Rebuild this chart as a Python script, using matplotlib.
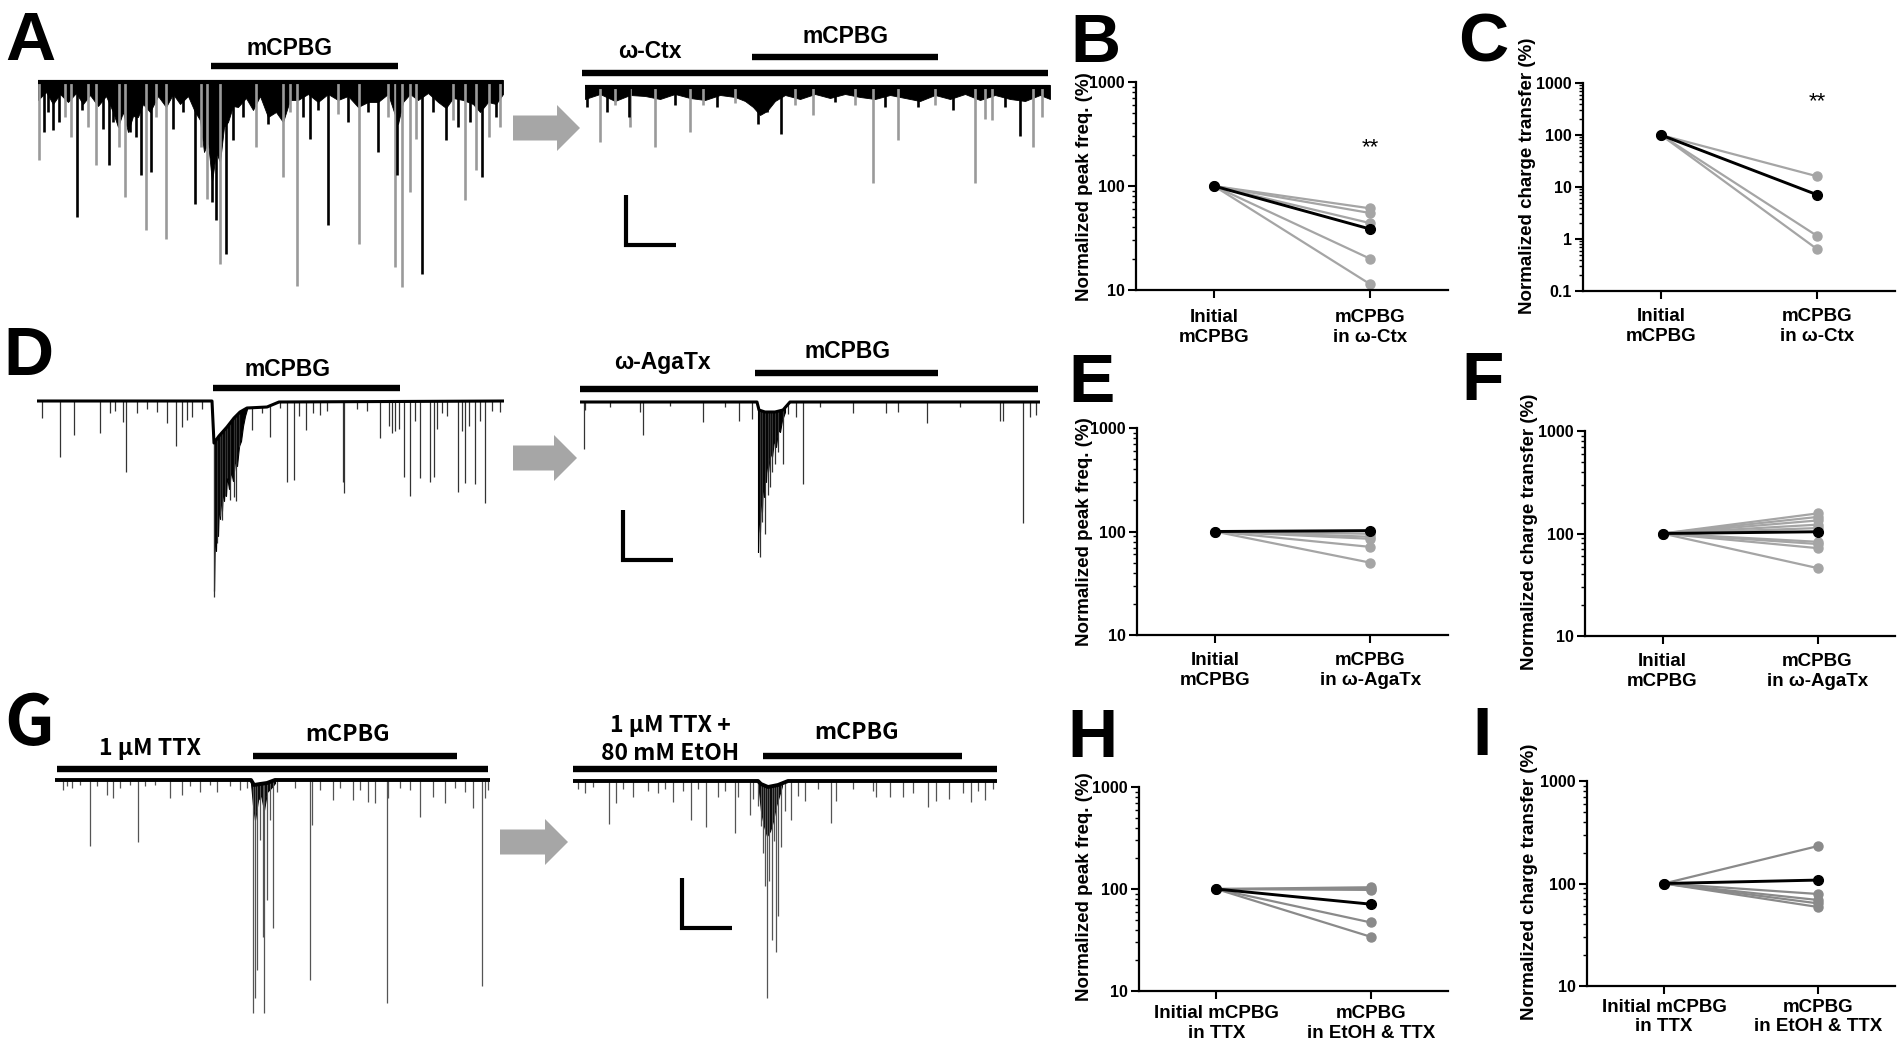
import numpy as np
import matplotlib
matplotlib.use('Agg')
import matplotlib.pyplot as plt
from matplotlib.patches import FancyArrow
from matplotlib.ticker import FuncFormatter, NullFormatter

plt.rcParams['font.family'] = ['Liberation Sans', 'DejaVu Sans']
plt.rcParams['font.weight'] = 'bold'

W, H = 1904, 1053
KR = ['Noto Sans CJK KR', 'DejaVu Sans']

# ---------------- paired plots (normalized to initial mCPBG = 100 %) ----------------
initial = 100.0
b_after = [61, 55, 44, 20, 11.4]
b_example = 38.6
c_after = [16.1, 1.15, 0.64]
c_example = 7.1
e_after = [95, 89, 85, 71, 50]
e_example = 102
f_after = [157, 145, 134, 122, 113, 83, 79, 72, 46]
f_example = 104
h_after = [104, 100, 98, 47, 34]
h_example = 71
i_after = [232, 79, 69, 64, 59]
i_example = 108

lab_ctx = ['Initial\nmCPBG', 'mCPBG\nin \u03c9-Ctx']
lab_aga = ['Initial\nmCPBG', 'mCPBG\nin \u03c9-AgaTx']
lab_ttx = ['Initial mCPBG\nin TTX', 'mCPBG\nin EtOH & TTX']

# ---------------- sEPSC traces: event times (s) and amplitudes (pA) ----------------
a_left_T = 465
a_left_black_t = [6, 10, 15, 21, 39, 44, 65, 71, 75, 92, 98, 103, 113, 135, 145, 157, 174, 178, 188, 195,
                  205, 230, 265, 272, 280, 290, 310, 330, 340, 359, 384, 395, 408, 420, 432, 444, 458]
a_left_black_amp = [50, 30, 48, 40, 135, 28, 47, 83, 40, 50, 55, 93, 90, 47, 30, 122, 120, 138, 172, 58,
                    35, 42, 35, 57, 28, 143, 40, 30, 70, 93, 192, 30, 58, 45, 40, 95, 35]
a_left_grey_t = [1, 27, 33, 50, 58, 81, 87, 108, 118, 128, 163, 169, 182, 218, 245, 252, 259, 300, 321, 350,
                 357, 364, 372, 378, 415, 427, 438, 451, 462]
a_left_grey_amp = [78, 35, 55, 45, 83, 65, 115, 148, 35, 157, 65, 117, 182, 65, 95, 30, 204, 32, 162, 35,
                   185, 205, 110, 57, 38, 118, 88, 55, 45]
a_left_env_t = [0, 8, 15, 22, 30, 38, 45, 52, 60, 68, 75, 80, 85, 90, 95, 100, 105, 112, 120, 128,
                135, 142, 150, 157, 162, 166, 170, 174, 178, 182, 186, 190, 195, 200, 208, 215, 222, 230, 238, 245,
                252, 260, 270, 280, 290, 300, 310, 320, 330, 340, 350, 356, 360, 365, 372, 380, 390, 400, 408, 415,
                425, 435, 442, 450, 458, 465]
a_left_env = [18, 10, 22, 12, 20, 11, 22, 13, 24, 14, 30, 45, 30, 50, 34, 35, 22, 30, 14, 25,
              12, 22, 14, 30, 38, 70, 60, 100, 70, 80, 45, 40, 24, 25, 16, 28, 14, 35, 30, 40,
              18, 18, 12, 20, 12, 18, 14, 25, 20, 20, 12, 30, 42, 20, 12, 18, 11, 20, 26, 16,
              18, 22, 30, 20, 22, 12]

a_right_T = 465
a_right_black_t = [2, 22, 44, 90, 132, 173, 182, 196, 250, 300, 333, 368, 420, 435]
a_right_black_amp = [20, 25, 30, 18, 20, 37, 25, 47, 15, 20, 20, 23, 20, 49]
a_right_grey_t = [15, 30, 45, 70, 105, 118, 150, 210, 228, 270, 288, 313, 350, 390, 400, 407, 448, 457]
a_right_grey_amp = [55, 18, 40, 60, 45, 18, 16, 18, 28, 18, 96, 53, 18, 96, 32, 33, 60, 30]
a_right_env_t = [0, 15, 30, 45, 60, 75, 90, 105, 120, 135, 150, 160, 168, 175, 182, 190, 200, 215, 230, 245,
                 260, 275, 290, 305, 320, 335, 350, 365, 380, 395, 410, 425, 440, 455, 465]
a_right_env = [12, 7, 14, 8, 9, 12, 7, 11, 13, 8, 10, 14, 20, 28, 24, 14, 8, 12, 7, 11,
               7, 10, 12, 8, 11, 14, 8, 12, 7, 13, 8, 12, 14, 8, 12]

d_left_T = 467
d_left_t = [5, 23, 37, 63, 73, 78, 86, 89, 100, 110, 120, 130, 139, 145, 150, 155, 165, 177, 180, 183,
            185, 188, 190, 193, 197, 199, 202, 215, 225, 233, 243, 250, 257, 262, 269, 276, 283, 290, 306, 307,
            320, 330, 343, 352, 355, 358, 362, 367, 373, 378, 383, 393, 397, 400, 405, 410, 421, 425, 428, 432,
            438, 443, 448, 455, 463]
d_left_amp = [17, 56, 34, 32, 12, 10, 21, 71, 12, 8, 11, 22, 45, 26, 19, 16, 8, 196, 142, 115,
              119, 95, 77, 99, 96, 100, 46, 29, 12, 36, 7, 81, 79, 15, 29, 12, 14, 10, 81, 92,
              8, 10, 37, 25, 32, 30, 28, 76, 95, 20, 77, 81, 76, 28, 12, 15, 91, 30, 82, 25,
              83, 20, 102, 10, 11]
d_left_drift_t = [0, 175, 177, 182, 190, 197, 203, 210, 230, 242, 467]
d_left_drift = [0, 0, -42, -35, -26, -17, -11, -7, -6, -1, 0]
d_left_mass_t = [177, 178, 179, 180, 181, 182, 183, 184, 185, 186, 187, 188, 189, 190, 192, 194,
                 196, 198, 200, 202, 204, 206, 208, 210]
d_left_mass_low = [-190, -120, -150, -105, -135, -100, -118, -92, -110, -85, -100, -80, -95, -75, -88, -70,
                   -80, -60, -65, -45, -40, -25, -15, -8]

d_right_T = 460
d_right_t = [4, 5, 30, 60, 63, 90, 123, 145, 159, 172, 180, 182, 185, 188, 190, 192, 195, 198, 203, 208,
             216, 223, 240, 273, 306, 318, 347, 380, 420, 423, 443, 450, 456]
d_right_amp = [47, 8, 5, 10, 33, 4, 20, 5, 19, 17, 155, 120, 132, 93, 85, 70, 62, 50, 62, 12,
               15, 82, 5, 11, 11, 10, 21, 5, 19, 19, 121, 15, 13]
d_right_drift_t = [0, 177, 179, 185, 195, 203, 210, 460]
d_right_drift = [0, 0, -8, -10, -10, -8, 0, 0]
d_right_mass_t = [178, 179, 180, 181, 182, 183, 184, 185, 186, 187, 188, 190, 192, 194, 196, 198,
                  200, 202, 205]
d_right_mass_low = [-150, -100, -130, -85, -110, -75, -95, -62, -80, -55, -70, -50, -55, -38, -45, -28,
                    -30, -18, -10]

g_left_T = 435
g_left_t = [8, 12, 17, 25, 35, 42, 52, 58, 65, 75, 83, 90, 100, 115, 127, 135, 145, 155, 162, 175,
            185, 192, 198, 200, 202, 205, 208, 209, 212, 215, 218, 222, 240, 255, 257, 265, 278, 285, 298, 305,
            313, 320, 332, 333, 345, 355, 365, 378, 390, 400, 410, 418, 427, 430, 433]
g_left_amp = [10, 6, 8, 5, 66, 6, 15, 18, 8, 5, 62, 6, 5, 18, 15, 6, 12, 5, 12, 6,
              10, 8, 233, 218, 190, 60, 157, 233, 120, 40, 148, 12, 8, 200, 45, 10, 20, 8, 20, 10,
              22, 23, 223, 18, 8, 10, 37, 17, 23, 8, 12, 28, 206, 18, 10]
g_left_drift_t = [0, 196, 199, 205, 212, 220, 435]
g_left_drift = [0, 0, -5, -4, -3, 0, 0]
g_left_mass_t = [196, 198, 200, 203, 206, 209, 212, 216, 220]
g_left_mass_low = [-3, -25, -40, -20, -15, -30, -12, -8, -3]

g_right_T = 424
g_right_t = [5, 12, 20, 36, 43, 50, 60, 75, 85, 92, 100, 110, 118, 125, 133, 145, 152, 162, 165, 177,
             180, 185, 188, 190, 192, 194, 196, 199, 201, 203, 205, 208, 212, 218, 225, 232, 245, 258, 263, 280,
             300, 303, 317, 330, 340, 355, 363, 376, 390, 398, 405, 412, 420]
g_right_amp = [8, 12, 6, 43, 22, 8, 16, 10, 12, 8, 21, 10, 39, 8, 46, 16, 10, 52, 16, 34,
               18, 25, 45, 72, 105, 217, 100, 159, 60, 171, 135, 66, 30, 39, 15, 20, 8, 42, 20, 8,
               10, 16, 16, 16, 12, 26, 20, 18, 12, 21, 10, 19, 8]
g_right_drift_t = [0, 185, 188, 195, 205, 215, 424]
g_right_drift = [0, 0, -3, -6, -4, 0, 0]
g_right_mass_t = [186, 188, 191, 194, 197, 200, 203, 206, 209]
g_right_mass_low = [-10, -30, -45, -55, -50, -40, -25, -15, -5]

scale_pa = 50
scale_s = 50

fig = plt.figure(figsize=(W / 100, H / 100), dpi=100)
fig.patch.set_facecolor('white')


def px_axes(l, t, r, b):
    return fig.add_axes([l / W, 1 - b / H, (r - l) / W, (b - t) / H])


def trace_axes(x0, base, T, ytop, ybot):
    ax = px_axes(x0, base - ytop, x0 + T, base + ybot)
    ax.set_xlim(0, T)
    ax.set_ylim(-ybot, ytop)
    ax.axis('off')
    return ax


def thick_trace(ax, bt, ba, gt, ga, et, ed, T):
    ax.fill_between(et, 2, -np.array(ed), color='k', lw=0.6)
    ax.vlines(gt, 0, -np.array(ga), colors='#9a9a9a', lw=1.9)
    ax.vlines(bt, 0, -np.array(ba), colors='k', lw=1.9)
    ax.plot([0, T], [0, 0], color='k', lw=3)


def thin_trace(ax, t, amp, dt, dr, mt, ml, lw_base, ecol):
    base = np.interp(t, dt, dr)
    ax.vlines(t, base, -np.array(amp), colors=ecol, lw=0.9)
    ax.fill_between(mt, np.interp(mt, dt, dr), ml, color='k', lw=0.8)
    ax.plot(dt, dr, color='k', lw=lw_base)


def drug_bar(ax, t0, t1, y, lw=4.6):
    ax.plot([t0, t1], [y, y], color='k', lw=lw, solid_capstyle='butt', clip_on=False)


def arrow(ax, x0, x1, y):
    ax.add_patch(FancyArrow(x0, y, x1 - x0, 0, width=25, head_width=46, head_length=23,
                            length_includes_head=True, color='#a6a6a6', lw=0, clip_on=False))


def scale_bar(ax, t, y):
    ax.plot([t, t, t + scale_s], [y, y - scale_pa, y - scale_pa], color='k', lw=3,
            solid_joinstyle='miter', solid_capstyle='butt', clip_on=False)


# ---- A ----
ax = trace_axes(38, 82, a_left_T, 80, 218)
thick_trace(ax, a_left_black_t, a_left_black_amp, a_left_grey_t, a_left_grey_amp, a_left_env_t, a_left_env, a_left_T)
drug_bar(ax, 173, 360, 16)
ax.text(252, 27, 'mCPBG', ha='center', va='baseline', fontsize=16.5)

ax = trace_axes(585, 87, a_right_T, 80, 175)
thick_trace(ax, a_right_black_t, a_right_black_amp, a_right_grey_t, a_right_grey_amp, a_right_env_t, a_right_env, a_right_T)
drug_bar(ax, -3, 463, 14)
drug_bar(ax, 167, 353, 30)
ax.text(65, 29, '\u03c9-Ctx', ha='center', va='baseline', fontsize=16.5)
ax.text(260, 44, 'mCPBG', ha='center', va='baseline', fontsize=16.5)
scale_bar(ax, 41, -108)
arrow(ax, -72, -5, -41)

# ---- D ----
ax = trace_axes(37, 401, d_left_T, 80, 200)
thin_trace(ax, d_left_t, d_left_amp, d_left_drift_t, d_left_drift, d_left_mass_t, d_left_mass_low, 2.2, '#333333')
drug_bar(ax, 176, 363, 13)
ax.text(251, 25, 'mCPBG', ha='center', va='baseline', fontsize=16.5)

ax = trace_axes(580, 402, d_right_T, 80, 170)
thin_trace(ax, d_right_t, d_right_amp, d_right_drift_t, d_right_drift, d_right_mass_t, d_right_mass_low, 2.2, '#333333')
drug_bar(ax, 0, 458, 13)
drug_bar(ax, 175, 358, 29)
ax.text(82, 33, '\u03c9-AgaTx', ha='center', va='baseline', fontsize=16.5)
ax.text(267, 44, 'mCPBG', ha='center', va='baseline', fontsize=16.5)
scale_bar(ax, 43, -108)
arrow(ax, -67, -3, -56)

# ---- G ----
ax = trace_axes(55, 780, g_left_T, 80, 240)
thin_trace(ax, g_left_t, g_left_amp, g_left_drift_t, g_left_drift, g_left_mass_t, g_left_mass_low, 2.8, '#555555')
drug_bar(ax, 2, 433, 11)
drug_bar(ax, 198, 402, 24)
ax.text(95, 25, '1 \u03bcM TTX', ha='center', va='baseline', fontsize=16.5, family=KR)
ax.text(293, 39, 'mCPBG', ha='center', va='baseline', fontsize=16.5, family=KR)

ax = trace_axes(573, 781, g_right_T, 80, 225)
thin_trace(ax, g_right_t, g_right_amp, g_right_drift_t, g_right_drift, g_right_mass_t, g_right_mass_low, 2.8, '#555555')
drug_bar(ax, 0, 424, 12)
drug_bar(ax, 190, 389, 25)
ax.text(97, 49, '1 \u03bcM TTX +', ha='center', va='baseline', fontsize=16.5, family=KR)
ax.text(97, 21, '80 mM EtOH', ha='center', va='baseline', fontsize=16.5, family=KR)
ax.text(284, 42, 'mCPBG', ha='center', va='baseline', fontsize=16.5, family=KR)
scale_bar(ax, 109, -97)
arrow(ax, -73, -5, -61)


# ---------------- paired panels ----------------
def pair_panel(box, ylim, after, example, gcol, ylabel, xlabels, lab_xy, pad):
    ax = px_axes(*box)
    ax.set_yscale('log')
    for v in after:
        ax.plot([0, 1], [initial, v], color=gcol, lw=1.6, marker='o', ms=6.5,
                mfc=gcol, mec=gcol, zorder=2, clip_on=False)
    ax.plot([0, 1], [initial, example], color='k', lw=2.1, marker='o', ms=7,
            mfc='k', mec='k', zorder=3, clip_on=False)
    ax.set_xlim(-0.5, 1.5)
    ax.set_ylim(*ylim)
    for s in ['top', 'right']:
        ax.spines[s].set_visible(False)
    for s in ['left', 'bottom']:
        ax.spines[s].set_linewidth(1.6)
    ax.set_xticks([0, 1])
    ax.set_xticklabels(xlabels, fontsize=13.5, fontweight='bold')
    ax.yaxis.set_major_formatter(FuncFormatter(lambda v, p: f'{v:g}'))
    ax.yaxis.set_minor_formatter(NullFormatter())
    ax.tick_params(axis='y', which='major', length=6, width=1.5, labelsize=11.5, pad=2)
    ax.tick_params(axis='y', which='minor', length=3, width=1.0)
    ax.tick_params(axis='x', length=6, width=1.5, pad=pad)
    ax.set_ylabel(ylabel, fontsize=13.5, fontweight='bold')
    ax.yaxis.set_label_coords(*lab_xy)
    return ax


ax = pair_panel((1136, 82, 1448, 290), (10, 1000), b_after, b_example, '#a5a5a5',
                'Normalized peak freq. (%)', lab_ctx, (-0.138, 0.495), 8)
ax.text(1, 232, '**', ha='center', va='center', fontsize=16, fontweight='normal')
ax = pair_panel((1583, 83, 1895, 291), (0.1, 1000), c_after, c_example, '#a5a5a5',
                'Normalized charge transfer (%)', lab_ctx, (-0.151, 0.553), 6.5)
ax.text(1, 431, '**', ha='center', va='center', fontsize=16, fontweight='normal')
pair_panel((1137, 428, 1448, 635), (10, 1000), e_after, e_example, '#a5a5a5',
           'Normalized peak freq. (%)', lab_aga, (-0.141, 0.5), 6.5)
pair_panel((1585, 431, 1895, 636), (10, 1000), f_after, f_example, '#a5a5a5',
           'Normalized charge transfer (%)', lab_aga, (-0.152, 0.507), 6.5)
pair_panel((1139, 787, 1448, 991), (10, 1000), h_after, h_example, '#8a8a8a',
           'Normalized peak freq. (%)', lab_ttx, (-0.149, 0.51), 4.3)
pair_panel((1587, 781, 1895, 986), (10, 1000), i_after, i_example, '#8a8a8a',
           'Normalized charge transfer (%)', lab_ttx, (-0.159, 0.507), 3)

# ---------------- panel letters ----------------
letters = [('A', 5, 60, None), ('B', 1070, 62, None), ('C', 1458, 61, None),
           ('D', 3, 375, None), ('E', 1068, 402, None), ('F', 1461, 400, None),
           ('G', 4, 745, KR), ('H', 1067, 757, None), ('I', 1472, 755, None)]
for s, x, y, fam in letters:
    kw = {'family': fam} if fam else {}
    fig.text(x / W, 1 - y / H, s, fontsize=50, fontweight='bold', ha='left', va='baseline', **kw)

fig.savefig('out.png', dpi=100, facecolor='white')
